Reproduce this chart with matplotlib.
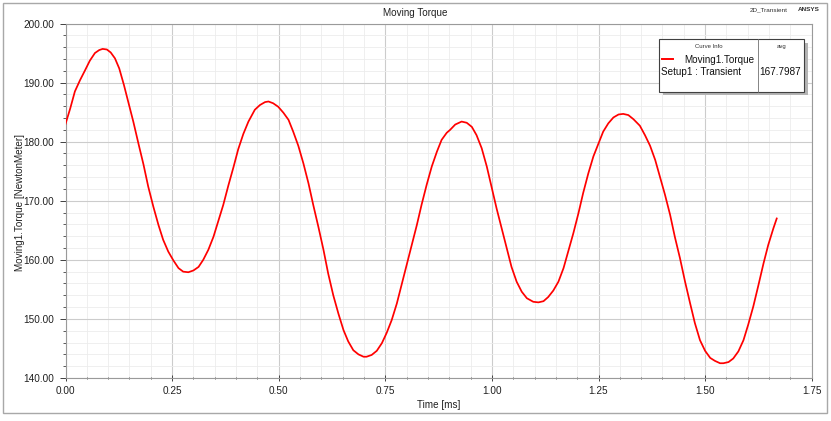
import matplotlib
matplotlib.use("Agg")
import matplotlib.pyplot as plt
from matplotlib.patches import Rectangle
from matplotlib.ticker import MultipleLocator, FormatStrFormatter

# values
time_ms = [0.000, 0.011, 0.022, 0.034, 0.046, 0.057, 0.069, 0.079, 0.087, 0.097,
           0.106, 0.116, 0.126, 0.137, 0.147, 0.159, 0.171, 0.183, 0.194, 0.206,
           0.218, 0.229, 0.241, 0.253, 0.265, 0.276, 0.288, 0.300, 0.312, 0.323,
           0.335, 0.347, 0.358, 0.370, 0.382, 0.394, 0.405, 0.417, 0.429, 0.444,
           0.456, 0.468, 0.476, 0.487, 0.499, 0.511, 0.523, 0.534, 0.546, 0.558,
           0.570, 0.581, 0.593, 0.605, 0.616, 0.628, 0.640, 0.652, 0.663, 0.675,
           0.687, 0.699, 0.706, 0.718, 0.730, 0.742, 0.753, 0.765, 0.777, 0.788,
           0.800, 0.812, 0.824, 0.835, 0.847, 0.859, 0.871, 0.882, 0.894, 0.902,
           0.914, 0.929, 0.941, 0.953, 0.964, 0.976, 0.988, 0.999, 1.011, 1.023,
           1.035, 1.046, 1.058, 1.070, 1.082, 1.097, 1.109, 1.121, 1.132, 1.144,
           1.156, 1.168, 1.179, 1.191, 1.203, 1.214, 1.226, 1.238, 1.250, 1.261,
           1.273, 1.285, 1.297, 1.308, 1.320, 1.332, 1.347, 1.359, 1.371, 1.383,
           1.394, 1.406, 1.418, 1.429, 1.441, 1.453, 1.465, 1.476, 1.488, 1.500,
           1.512, 1.523, 1.535, 1.543, 1.555, 1.566, 1.578, 1.590, 1.601, 1.613,
           1.625, 1.637, 1.648, 1.660, 1.668]
torque = [183.0, 185.6, 188.5, 190.4, 192.1, 193.7, 195.0, 195.5, 195.7, 195.6,
          195.1, 194.1, 192.4, 189.6, 186.8, 183.4, 179.7, 176.1, 172.4, 169.0,
          165.9, 163.4, 161.4, 159.9, 158.6, 158.0, 157.9, 158.2, 158.8, 160.0,
          161.7, 163.9, 166.5, 169.3, 172.6, 175.7, 178.7, 181.3, 183.4, 185.4,
          186.2, 186.7, 186.8, 186.5, 185.9, 184.9, 183.7, 181.7, 179.3, 176.3,
          172.9, 169.3, 165.6, 161.7, 157.7, 154.0, 150.9, 148.1, 146.2, 144.7,
          144.0, 143.6, 143.6, 143.9, 144.6, 145.9, 147.6, 149.8, 152.6, 155.7,
          159.1, 162.5, 165.9, 169.3, 172.7, 175.8, 178.3, 180.3, 181.5, 182.0,
          182.9, 183.4, 183.2, 182.5, 181.1, 178.9, 175.8, 172.4, 168.7, 165.3,
          161.9, 158.8, 156.3, 154.6, 153.5, 152.9, 152.8, 153.0, 153.7, 154.8,
          156.3, 158.6, 161.4, 164.5, 167.9, 171.3, 174.6, 177.5, 179.7, 181.7,
          183.1, 184.1, 184.6, 184.7, 184.5, 183.8, 182.7, 181.1, 179.3, 176.9,
          174.1, 171.0, 167.6, 163.9, 160.3, 156.3, 152.6, 149.3, 146.4, 144.6,
          143.4, 142.9, 142.5, 142.5, 142.7, 143.3, 144.5, 146.4, 149.0, 152.1,
          155.7, 159.4, 162.5, 165.3, 167.0]

x_ticks = [0.00, 0.25, 0.50, 0.75, 1.00, 1.25, 1.50, 1.75]
y_ticks = [140, 150, 160, 170, 180, 190, 200]

plot_title = "Moving Torque"
x_label = "Time [ms]"
y_label = "Moving1.Torque [NewtonMeter]"
curve_name = "Moving1.Torque"
setup_name = "Setup1 : Transient"
avg_value = 167.7987

plt.rcParams['font.family'] = ['Liberation Sans', 'DejaVu Sans']

W, H = 831, 421
fig = plt.figure(figsize=(W / 100, H / 100), dpi=100)
fig.patch.set_facecolor('white')

def fx(px):  # pixel -> figure fraction
    return px / W

def fy(py):
    return 1 - py / H

ax = fig.add_axes([fx(65.5), fy(378), fx(811.7) - fx(65.5), fy(23.5) - fy(378)])
ax.plot(time_ms, torque, color='#ff0000', lw=1.25, zorder=3)
ax.set_xlim(0, 1.75)
ax.set_ylim(140, 200)
ax.set_xticks(x_ticks)
ax.set_yticks(y_ticks)
ax.xaxis.set_minor_locator(MultipleLocator(0.05))
ax.yaxis.set_minor_locator(MultipleLocator(2))
ax.xaxis.set_major_formatter(FormatStrFormatter('%.2f'))
ax.yaxis.set_major_formatter(FormatStrFormatter('%.2f'))

ax.set_axisbelow(True)
ax.grid(which='major', color='#cccccc', lw=0.8)
ax.grid(which='minor', color='#ececec', lw=0.6)
for s in ax.spines.values():
    s.set_color('#9a9a9a')
    s.set_linewidth(0.8)

ax.tick_params(which='major', length=4, width=0.7, color='#404040',
               labelsize=7.2, labelcolor='#202020')
ax.tick_params(which='minor', length=2, width=0.6, color='#404040')
ax.tick_params(axis='x', which='both', direction='inout', pad=4)
ax.tick_params(axis='y', which='both', direction='out', pad=4)

# texts around the plot
fig.text(fx(415.5), fy(12.7), plot_title, ha='center', va='center', fontsize=7.1, color='#202020')
fig.text(fx(438.6), fy(405), x_label, ha='center', va='center', fontsize=7.1, color='#202020')
fig.text(fx(20), fy(202.5), y_label, ha='center', va='center', rotation=90, fontsize=7.1, color='#202020')
fig.text(fx(769), fy(10), "2D_Transient", ha='center', va='center', fontsize=4.6, color='#303030')
fig.text(fx(809), fy(9.5), "ANSYS", ha='center', va='center', fontsize=4.6, fontweight='bold', color='#303030')

# overlay in pixel coordinates for frame and curve info box
ov = fig.add_axes([0, 0, 1, 1], zorder=5)
ov.set_xlim(0, W)
ov.set_ylim(H, 0)
ov.axis('off')

ov.add_patch(Rectangle((2.5, 2.5), 824.5, 410.5, fill=False, edgecolor='#a8a8a8', lw=1.0))

ov.add_patch(Rectangle((662.5, 42.5), 145, 52.4, facecolor='#b4b4b4', edgecolor='none'))
ov.add_patch(Rectangle((659.3, 39.3), 145, 52.4, facecolor='white', edgecolor='#404040', lw=0.8))
ov.plot([757.7, 757.7], [39.3, 91.7], color='#707070', lw=0.6)

ov.text(708.5, 46.3, "Curve Info", ha='center', va='center', fontsize=4.3, color='#303030')
ov.text(781.7, 46.3, "avg", ha='center', va='center', fontsize=4.3, color='#303030')
ov.plot([661.7, 673.3], [59.3, 59.3], color='#ff0000', lw=1.4)
ov.text(684, 60, curve_name, ha='left', va='center', fontsize=7.1, color='#101010')
ov.text(661, 72, setup_name, ha='left', va='center', fontsize=7.1, color='#101010')
ov.text(759, 72, f"{avg_value:.4f}", ha='left', va='center', fontsize=7.2, color='#101010')

fig.savefig('out.png', dpi=100)
